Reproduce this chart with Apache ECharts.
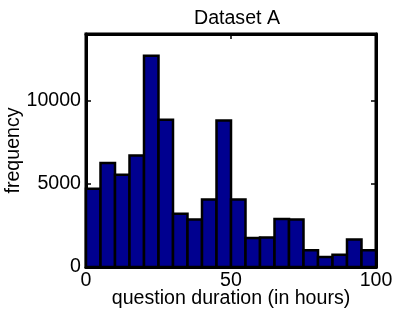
<!DOCTYPE html>
<html><head><meta charset="utf-8">
<script src="https://cdn.jsdelivr.net/npm/echarts@6/dist/echarts.min.js"></script>
<style>html,body{margin:0;padding:0;background:#fff}#c{width:415px;height:312px}</style>
</head><body><div id="c"></div>
<script>
var binStarts = [0,5,10,15,20,25,30,35,40,45,50,55,60,65,70,75,80,85,90,95];
var binWidth = 5;
var counts = [4700,6250,5550,6700,12700,8850,3200,2850,4050,8800,4050,1750,1780,2880,2850,1000,600,740,1650,1000];
var xTicks = [0,50,100];
var yTicks = [0,5000,10000];
var titleText = 'Dataset A';
var xLabel = 'question duration (in hours)';
var yLabel = 'frequency';

var FONT = 'Liberation Sans, Arial, Helvetica, sans-serif';
var FS = 19.6;
var data = binStarts.map(function(s,i){ return [s, s+binWidth, counts[i]]; });
var chart = echarts.init(document.getElementById('c'), null, {renderer:'canvas'});
function tick(list){ return {show:true, inside:true, length:5, customValues:list, lineStyle:{color:'#000', width:1.5}}; }
var line = {show:true, onZero:false, lineStyle:{color:'#000', width:3}};
chart.setOption({
  animation:false,
  title:{text:titleText, left:232, top:4, textAlign:'center', textStyle:{fontFamily:FONT, fontSize:FS, fontWeight:'normal', color:'#000'}},
  grid:{left:86, right:39, top:34, bottom:45, show:true, borderColor:'#000', borderWidth:3, backgroundColor:'#fff', containLabel:false, outerBoundsMode:'none'},
  xAxis:[
    {type:'value', min:0, max:100, interval:50, position:'bottom',
      axisLine:line, axisTick:tick(xTicks), splitLine:{show:false},
      axisLabel:{fontFamily:FONT, fontSize:FS, color:'#000', margin:4, customValues:xTicks, formatter:function(v){return String(v);}},
      name:xLabel, nameLocation:'middle', nameGap:22, nameMoveOverlap:false,
      nameTextStyle:{fontFamily:FONT, fontSize:FS, color:'#000'}},
    {type:'value', min:0, max:100, interval:50, position:'top',
      axisLine:line, axisTick:tick(xTicks), splitLine:{show:false},
      axisLabel:{show:false}}
  ],
  yAxis:[
    {type:'value', min:0, max:14000, interval:5000, position:'left',
      axisLine:line, axisTick:tick(yTicks), splitLine:{show:false},
      axisLabel:{fontFamily:FONT, fontSize:FS, color:'#000', margin:5, customValues:yTicks, formatter:function(v){return String(v);}},
      name:yLabel, nameLocation:'middle', nameGap:62, nameMoveOverlap:false,
      nameTextStyle:{fontFamily:FONT, fontSize:FS, color:'#000'}},
    {type:'value', min:0, max:14000, interval:5000, position:'right',
      axisLine:line, axisTick:tick(yTicks), splitLine:{show:false}, axisLabel:{show:false}}
  ],
  series:[{
    type:'custom',
    xAxisIndex:0, yAxisIndex:0,
    data:data,
    encode:{x:[0,1], y:2},
    renderItem:function(params, api){
      var p0 = api.coord([api.value(0), 0]);
      var p1 = api.coord([api.value(1), api.value(2)]);
      return {type:'rect', shape:{x:p0[0], y:p1[1], width:p1[0]-p0[0], height:p0[1]-p1[1]},
        style:{fill:'#00008F', stroke:'#000', lineWidth:2.5}};
    }
  },{
    type:'line', xAxisIndex:1, yAxisIndex:1, data:[[0,0]], symbol:'none', silent:true, lineStyle:{opacity:0}
  }]
});
</script></body></html>
